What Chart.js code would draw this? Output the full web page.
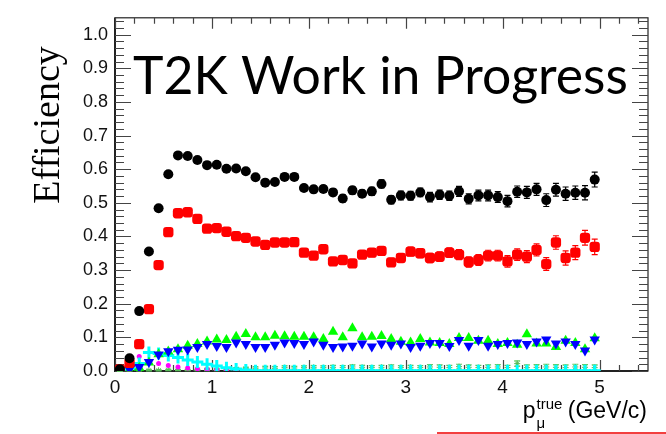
<!DOCTYPE html>
<html>
<head>
<meta charset="utf-8">
<script src="https://cdn.jsdelivr.net/npm/chart.js@4.4.1/dist/chart.umd.min.js"></script>
<style>
  html, body { margin: 0; padding: 0; background: #fff; }
  #wrap { width: 666px; height: 434px; }
</style>
</head>
<body>
<div id="wrap"><canvas id="effChart" width="666" height="434"></canvas></div>
<script>
// bin centres of p_mu true (GeV/c)
const binCenters = [0.05, 0.15, 0.25, 0.35, 0.45, 0.55, 0.65, 0.75, 0.85, 0.95,
    1.05, 1.15, 1.25, 1.35, 1.45, 1.55, 1.65, 1.75, 1.85, 1.95,
    2.05, 2.15, 2.25, 2.35, 2.45, 2.55, 2.65, 2.75, 2.85, 2.95,
    3.05, 3.15, 3.25, 3.35, 3.45, 3.55, 3.65, 3.75, 3.85, 3.95,
    4.05, 4.15, 4.25, 4.35, 4.45, 4.55, 4.65, 4.75, 4.85, 4.95];

const blackEff = [0.005, 0.038, 0.178, 0.355, 0.484, 0.585, 0.641, 0.639, 0.627, 0.612,
    0.613, 0.601, 0.602, 0.594, 0.576, 0.560, 0.562, 0.577, 0.577, 0.544,
    0.540, 0.541, 0.531, 0.513, 0.537, 0.527, 0.534, 0.556, 0.509, 0.522,
    0.521, 0.531, 0.517, 0.524, 0.521, 0.534, 0.512, 0.522, 0.522, 0.517,
    0.505, 0.533, 0.531, 0.540, 0.508, 0.539, 0.527, 0.530, 0.530, 0.569];
const blackErr = [0.003, 0.004, 0.005, 0.006, 0.006, 0.006, 0.006, 0.006, 0.006, 0.006,
    0.007, 0.007, 0.007, 0.007, 0.008, 0.008, 0.008, 0.009, 0.009, 0.009,
    0.010, 0.010, 0.010, 0.011, 0.011, 0.011, 0.012, 0.012, 0.012, 0.013,
    0.013, 0.013, 0.014, 0.014, 0.014, 0.015, 0.015, 0.016, 0.016, 0.016,
    0.017, 0.017, 0.018, 0.018, 0.019, 0.019, 0.020, 0.020, 0.021, 0.022];

const redEff = [0.005, 0.024, 0.080, 0.184, 0.315, 0.413, 0.469, 0.472, 0.452, 0.423,
    0.425, 0.414, 0.401, 0.396, 0.385, 0.375, 0.382, 0.382, 0.383, 0.352,
    0.343, 0.362, 0.326, 0.330, 0.320, 0.346, 0.352, 0.357, 0.323, 0.336,
    0.355, 0.350, 0.336, 0.340, 0.352, 0.346, 0.324, 0.330, 0.343, 0.343,
    0.326, 0.346, 0.340, 0.360, 0.318, 0.382, 0.336, 0.352, 0.396, 0.369];
const redErr = [0.003, 0.004, 0.005, 0.006, 0.006, 0.006, 0.006, 0.006, 0.006, 0.006,
    0.007, 0.007, 0.007, 0.007, 0.008, 0.008, 0.008, 0.009, 0.009, 0.009,
    0.010, 0.010, 0.010, 0.011, 0.011, 0.011, 0.012, 0.012, 0.012, 0.013,
    0.013, 0.013, 0.014, 0.014, 0.014, 0.015, 0.015, 0.016, 0.016, 0.016,
    0.017, 0.017, 0.018, 0.018, 0.019, 0.020, 0.021, 0.021, 0.022, 0.023];

const greenEff = [0.000, 0.003, 0.010, 0.025, 0.050, 0.058, 0.065, 0.075, 0.080, 0.088,
    0.094, 0.092, 0.102, 0.110, 0.100, 0.100, 0.105, 0.103, 0.102, 0.102,
    0.100, 0.095, 0.117, 0.100, 0.127, 0.100, 0.102, 0.104, 0.095, 0.087,
    0.085, 0.095, 0.085, 0.083, 0.080, 0.098, 0.098, 0.090, 0.090, 0.080,
    0.083, 0.078, 0.109, 0.082, 0.082, 0.071, 0.090, 0.083, 0.065, 0.097];

const blueEff = [0.000, 0.005, 0.012, 0.027, 0.049, 0.059, 0.063, 0.064, 0.071, 0.080,
    0.074, 0.071, 0.085, 0.080, 0.071, 0.071, 0.078, 0.085, 0.083, 0.080,
    0.088, 0.078, 0.071, 0.073, 0.075, 0.082, 0.073, 0.082, 0.078, 0.082,
    0.071, 0.075, 0.083, 0.083, 0.074, 0.092, 0.075, 0.092, 0.075, 0.080,
    0.083, 0.085, 0.080, 0.088, 0.094, 0.082, 0.088, 0.080, 0.061, 0.094];

const cyanEff = [0.000, 0.008, 0.022, 0.055, 0.052, 0.046, 0.040, 0.033, 0.027, 0.020,
    0.015, 0.010, 0.006, 0.003, 0.001, 0.001, 0.001, 0.001, 0.001, 0.001,
    0.001, 0.001, 0.001, 0.001, 0.001, 0.001, 0.001, 0.001, 0.001, 0.001,
    0.001, 0.001, 0.001, 0.001, 0.001, 0.001, 0.001, 0.001, 0.001, 0.001,
    0.001, 0.001, 0.001, 0.001, 0.001, 0.001, 0.001, 0.001, 0.001, 0.001];

const magentaEff = [0.000, 0.010, 0.043, 0.030, 0.022, 0.016, 0.012, 0.009, 0.007, 0.005,
    0.004, 0.003, 0.002, 0.001];

const lightGreenEff = [0.001, 0.002, 0.002, 0.002, 0.002, 0.003, 0.003, 0.003, 0.003, 0.004,
    0.004, 0.005, 0.006, 0.007, 0.008, 0.009, 0.008, 0.010, 0.009, 0.010,
    0.011, 0.010, 0.011, 0.010, 0.012, 0.011, 0.010, 0.011, 0.012, 0.010,
    0.011, 0.010, 0.012, 0.011, 0.010, 0.013, 0.011, 0.010, 0.011, 0.012,
    0.010, 0.022, 0.010, 0.011, 0.012, 0.011, 0.010, 0.012, 0.011, 0.010];
const lightGreenErr = [0.002, 0.002, 0.002, 0.002, 0.002, 0.002, 0.002, 0.002, 0.002, 0.003,
    0.003, 0.003, 0.004, 0.004, 0.004, 0.005, 0.005, 0.005, 0.005, 0.005,
    0.005, 0.005, 0.006, 0.006, 0.006, 0.006, 0.006, 0.006, 0.006, 0.006,
    0.006, 0.006, 0.007, 0.007, 0.007, 0.007, 0.007, 0.007, 0.007, 0.007,
    0.007, 0.008, 0.008, 0.008, 0.008, 0.008, 0.008, 0.008, 0.008, 0.008];

const yTickValues = [0, 0.1, 0.2, 0.3, 0.4, 0.5, 0.6, 0.7, 0.8, 0.9, 1.0];
const yTickLabels = ['0.0', '0.1', '0.2', '0.3', '0.4', '0.5', '0.6', '0.7', '0.8', '0.9', '1.0'];
const xTickValues = [0, 1, 2, 3, 4, 5];
const xTickLabels = ['0', '1', '2', '3', '4', '5'];

const watermark = 'T2K Work in Progress';
const yTitle = 'Efficiency';

function toPoints(vals, errs) {
    return vals.map((v, i) => ({ x: binCenters[i], y: v, err: errs ? errs[i] : 0 }));
}

// error bars, frame with ROOT style ticks, titles
const rootStyle = {
    id: 'rootStyle',
    beforeDatasetsDraw(chart) {
        const ctx = chart.ctx;
        const xs = chart.scales.x, ys = chart.scales.y;
        const a = chart.chartArea;

        // frame
        ctx.save();
        ctx.strokeStyle = '#222';
        ctx.lineWidth = 1.2;
        ctx.strokeRect(a.left, a.top, a.right - a.left, a.bottom - a.top);
        ctx.lineWidth = 2;
        ctx.beginPath();
        ctx.moveTo(a.left, a.top); ctx.lineTo(a.left, a.bottom); ctx.lineTo(a.right, a.bottom);
        ctx.stroke();

        // y ticks (left and right)
        ctx.strokeStyle = '#444';
        ctx.lineWidth = 1.2;
        for (let k = 0; k <= 52; k++) {
            const v = k * 0.02;
            const py = Math.round(ys.getPixelForValue(v)) + 0.5;
            const len = (k % 5 === 0) ? 16 : 9;
            ctx.beginPath();
            ctx.moveTo(a.left, py); ctx.lineTo(a.left + len, py);
            ctx.moveTo(a.right, py); ctx.lineTo(a.right - len, py);
            ctx.stroke();
        }
        // x ticks (bottom and top)
        for (let k = 0; k <= 27; k++) {
            const v = k * 0.2;
            const px = Math.round(xs.getPixelForValue(v)) + 0.5;
            const len = (k % 5 === 0) ? 11 : 6;
            ctx.beginPath();
            ctx.moveTo(px, a.bottom); ctx.lineTo(px, a.bottom - len);
            ctx.moveTo(px, a.top); ctx.lineTo(px, a.top + len);
            ctx.stroke();
        }
        ctx.restore();

        // error bars
        ctx.save();
        chart.data.datasets.forEach(ds => {
            if (!ds.withErrors) return;
            ctx.strokeStyle = ds.barColor;
            ctx.lineWidth = 1.2;
            ds.data.forEach(p => {
                if (!p.err) return;
                const px = xs.getPixelForValue(p.x);
                const y1 = ys.getPixelForValue(p.y + p.err);
                const y2 = ys.getPixelForValue(p.y - p.err);
                ctx.beginPath();
                ctx.moveTo(px, y1); ctx.lineTo(px, y2);
                ctx.moveTo(px - 3, y1); ctx.lineTo(px + 3, y1);
                ctx.moveTo(px - 3, y2); ctx.lineTo(px + 3, y2);
                ctx.stroke();
            });
        });
        ctx.restore();
    },
    afterDraw(chart) {
        const ctx = chart.ctx;
        ctx.save();
        ctx.fillStyle = '#000';

        // watermark, fitted to the reference width
        ctx.textAlign = 'left';
        ctx.textBaseline = 'alphabetic';
        ctx.font = '50px Lato';
        const w = ctx.measureText(watermark).width;
        const size = 50 * 495 / w;
        ctx.font = size.toFixed(1) + 'px Lato';
        ctx.fillText(watermark, 133, 94);

        // y title
        ctx.save();
        ctx.translate(59, 125);
        ctx.rotate(-Math.PI / 2);
        ctx.textAlign = 'center';
        ctx.font = '38px "Liberation Serif"';
        ctx.fillText(yTitle, 0, 0);
        ctx.restore();

        // x title: p_mu^true (GeV/c), right aligned
        ctx.textAlign = 'left';
        const mainFont = '23px "Liberation Sans"';
        const smallFont = '15px "Liberation Sans"';
        ctx.font = mainFont;
        const wUnit = ctx.measureText(' (GeV/c)').width;
        const wP = ctx.measureText('p').width;
        ctx.font = smallFont;
        const wSup = ctx.measureText('true').width;
        const right = 647;
        let x0 = right - wUnit - wSup - wP;
        ctx.font = mainFont;
        ctx.fillText('p', x0, 418);
        ctx.font = smallFont;
        ctx.fillText('true', x0 + wP + 1, 409);
        ctx.fillText('\u03bc', x0 + wP + 1, 428);
        ctx.font = mainFont;
        ctx.fillText(' (GeV/c)', x0 + wP + wSup, 418);

        // stray red line at the bottom of the picture
        ctx.strokeStyle = '#e00';
        ctx.lineWidth = 1.5;
        ctx.beginPath();
        ctx.moveTo(437, 433); ctx.lineTo(666, 433);
        ctx.stroke();
        ctx.restore();
    }
};

const ctx = document.getElementById('effChart').getContext('2d');
new Chart(ctx, {
    type: 'scatter',
    data: {
        datasets: [
            { label: 'all', data: toPoints(blackEff, blackErr), withErrors: true, barColor: '#000',
              pointStyle: 'circle', pointRadius: 5, backgroundColor: '#000', borderColor: '#000', borderWidth: 0 },
            { label: 'red', data: toPoints(redEff, redErr), withErrors: true, barColor: '#f00',
              pointStyle: 'rectRounded', pointRadius: 6, backgroundColor: '#f00', borderColor: '#f00', borderWidth: 0 },
            { label: 'blue', data: toPoints(blueEff), pointStyle: 'triangle', rotation: 180,
              pointRadius: 6, backgroundColor: '#00f', borderColor: '#00f', borderWidth: 0 },
            { label: 'green', data: toPoints(greenEff), pointStyle: 'triangle',
              pointRadius: 6, backgroundColor: '#0f0', borderColor: '#0f0', borderWidth: 0 },
            { label: 'cyan', data: toPoints(cyanEff), pointStyle: 'cross',
              pointRadius: 6, backgroundColor: '#0ff', borderColor: '#0ff', borderWidth: 3 },
            { label: 'magenta', data: toPoints(magentaEff), pointStyle: 'circle',
              pointRadius: 2.5, backgroundColor: '#f0f', borderColor: '#f0f', borderWidth: 0 },
            { label: 'lightgreen', data: toPoints(lightGreenEff, lightGreenErr), withErrors: true, barColor: '#6c6',
              pointStyle: 'star', pointRadius: 3, backgroundColor: '#6c6', borderColor: '#5b5', borderWidth: 1 }
        ]
    },
    options: {
        responsive: false,
        animation: false,
        devicePixelRatio: 1,
        layout: { padding: { left: 0, right: 18, top: 10, bottom: 0 } },
        plugins: { legend: { display: false }, tooltip: { enabled: false } },
        scales: {
            x: {
                type: 'linear',
                min: 0,
                max: 5.5,
                grid: { display: false, drawTicks: false },
                border: { display: false },
                afterBuildTicks: s => { s.ticks = xTickValues.map(v => ({ value: v })); },
                afterFit: s => { s.height = 63; },
                ticks: {
                    padding: 5,
                    color: '#111',
                    font: { family: '"Liberation Sans"', size: 19 },
                    callback: (v) => xTickLabels[xTickValues.indexOf(v)]
                }
            },
            y: {
                type: 'linear',
                min: 0,
                max: 1.05,
                grid: { display: false, drawTicks: false },
                border: { display: false },
                afterBuildTicks: s => { s.ticks = yTickValues.map(v => ({ value: v })); },
                afterFit: s => { s.width = 115; },
                ticks: {
                    padding: 7,
                    color: '#111',
                    font: { family: '"Liberation Sans"', size: 18 },
                    callback: (v) => yTickLabels[yTickValues.indexOf(v)]
                }
            }
        }
    },
    plugins: [rootStyle]
});
</script>
</body>
</html>
